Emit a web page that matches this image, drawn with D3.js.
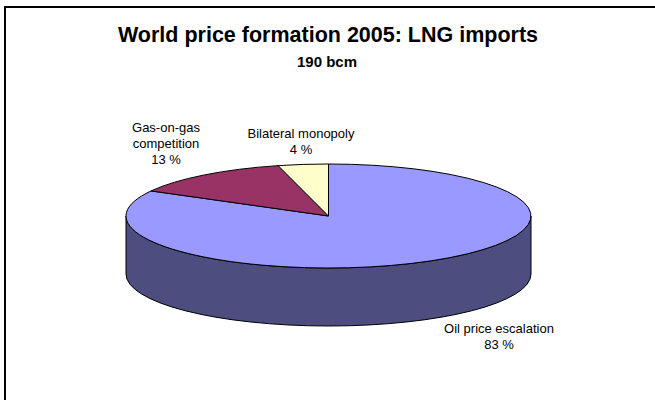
<!DOCTYPE html>
<html>
<head>
<meta charset="utf-8">
<script src="https://cdn.jsdelivr.net/npm/d3@7/dist/d3.min.js"></script>
<style>
  html, body { margin: 0; padding: 0; background: #fff; }
  svg { display: block; }
  text { font-family: "Liberation Sans", Arial, sans-serif; fill: #000; }
</style>
</head>
<body>
<svg id="chart" width="655" height="400"></svg>
<script>
// LNG import volumes by price-formation mechanism, 2005 (share of 190 bcm)
const categories = ["Oil price escalation", "Gas-on-gas competition", "Bilateral monopoly"];
const shares = [83, 13, 4];
const labelLines = [["Oil price escalation", "83 %"], ["Gas-on-gas", "competition", "13 %"], ["Bilateral monopoly", "4 %"]];
const topColors = ["#9999ff", "#993366", "#ffffcc"];
const sideColors = ["#4d4d80", "#4d1a33", "#808066"];
const titleText = "World price formation 2005: LNG imports";
const subtitleText = "190 bcm";

const W = 655, H = 400;
const svg = d3.select("#chart");

// frame (open on the right and bottom)
svg.append("path")
  .attr("d", `M5,${H + 5} L5,7 L${W + 5},7`)
  .attr("fill", "none").attr("stroke", "#000").attr("stroke-width", 2);

svg.append("text").attr("x", 328).attr("y", 42)
  .attr("text-anchor", "middle").attr("font-size", 21.5).attr("font-weight", "bold")
  .text(titleText);
svg.append("text").attr("x", 327).attr("y", 67)
  .attr("text-anchor", "middle").attr("font-size", 15).attr("font-weight", "bold")
  .text(subtitleText);

// 3-D pie geometry
const cx = 328.5, cy = 216, rx = 202.5, ry = 52, depth = 58;
const px = a => cx + rx * Math.sin(a);
const py = (a, dz = 0) => cy - ry * Math.cos(a) + dz;

const pie = d3.pie().sort(null).value(d => d.v).startAngle(0).endAngle(2 * Math.PI);
const arcs = pie(categories.map((c, i) => ({ c, v: shares[i], i })));

const g = svg.append("g");

// side walls: only the front half (angles π/2 .. 3π/2) is visible
arcs.forEach(a => {
  const s = Math.max(a.startAngle, Math.PI / 2);
  const e = Math.min(a.endAngle, 3 * Math.PI / 2);
  if (e <= s) return;
  const large = (e - s) > Math.PI ? 1 : 0;
  const d = `M${px(s)},${py(s)} A${rx},${ry} 0 ${large} 1 ${px(e)},${py(e)}` +
            ` L${px(e)},${py(e, depth)} A${rx},${ry} 0 ${large} 0 ${px(s)},${py(s, depth)} Z`;
  g.append("path").attr("d", d)
    .attr("fill", sideColors[a.data.i]).attr("stroke", "#000").attr("stroke-width", 1)
    .attr("stroke-linejoin", "round");
});

// top face slices
arcs.forEach(a => {
  const s = a.startAngle, e = a.endAngle;
  const large = (e - s) > Math.PI ? 1 : 0;
  const d = `M${cx},${cy} L${px(s)},${py(s)} A${rx},${ry} 0 ${large} 1 ${px(e)},${py(e)} Z`;
  g.append("path").attr("d", d)
    .attr("fill", topColors[a.data.i]).attr("stroke", "#000").attr("stroke-width", 1)
    .attr("stroke-linejoin", "round");
});

// category labels
const labelPos = [[499, 333], [166, 132], [301, 138]];
arcs.forEach(a => {
  const [lx, ly] = labelPos[a.data.i];
  const t = svg.append("text").attr("text-anchor", "middle").attr("font-size", 13);
  labelLines[a.data.i].forEach((ln, k) => {
    t.append("tspan").attr("x", lx).attr("y", ly + k * 16).text(ln);
  });
});
</script>
</body>
</html>
